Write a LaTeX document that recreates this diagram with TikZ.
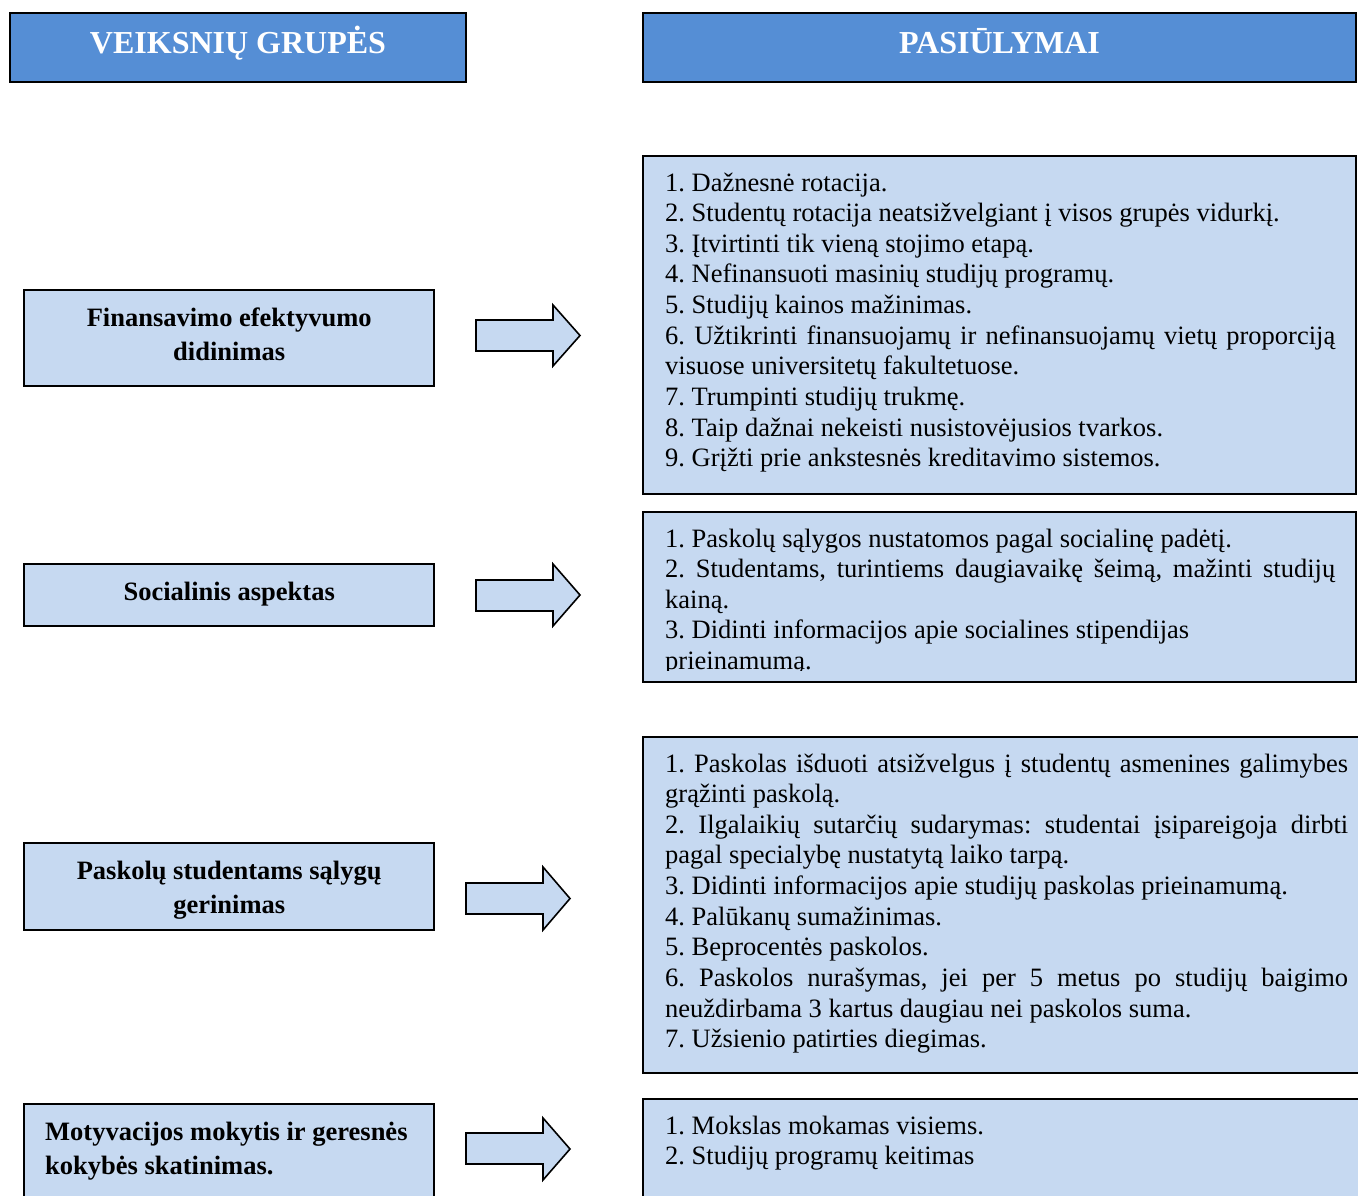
\documentclass[tikz,border=0pt]{standalone}
\usepackage{fontspec}
\setmainfont{Liberation Serif}
\frenchspacing
\definecolor{hdrblue}{HTML}{558ED5}
\definecolor{boxblue}{HTML}{C6D9F1}
\newcommand\lineJ[1]{\hbox to\hsize{#1}}
\newcommand\lineN[1]{\hbox{#1}}
\newcommand\lineC[1]{\hbox to\hsize{\hfil#1\hfil}}
\newcommand\bodytext{\fontsize{26.5}{30.7}\selectfont}
\tikzset{
  hdrbox/.style={draw=black, line width=2pt, fill=hdrblue, inner sep=0, minimum height=69pt},
  leftbox/.style={draw=black, line width=1.6pt, fill=boxblue, inner sep=0, minimum width=410pt},
  lefttext/.style={anchor=base west, inner sep=0, font=\fontsize{26.5}{34}\selectfont\bfseries},
  rightbox/.style={draw=black, line width=1.6pt, fill=boxblue, inner sep=0},
  hdrtext/.style={anchor=base, inner sep=0, text=white, font=\fontsize{32}{38}\selectfont\bfseries},
  bodynode/.style={anchor=base west, inner sep=0, font=\bodytext},
  bigarrow/.style={draw=black, line width=1.6pt, fill=boxblue, line join=miter}
}
\begin{document}
\begin{tikzpicture}[x=1pt,y=-1pt]
\useasboundingbox (0,0) rectangle (1358,1195);
\clip (0,0) rectangle (1358,1195);
\fill[white] (0,0) rectangle (1358,1195);

% headers
\node[hdrbox, minimum width=456pt] (h1) at (238,47.5) {};
\node[hdrtext] (h1t) at (238,53) {VEIKSNIŲ GRUPĖS};
\node[hdrbox, minimum width=713pt] (h2) at (999.5,47.5) {};
\node[hdrtext] (h2t) at (999.5,53) {PASIŪLYMAI};

% left boxes
\node[leftbox, minimum height=96pt] (l1) at (229,338) {};
\node[lefttext] (l1t) at (24,326) {\vtop{\hsize=410pt\baselineskip=34pt\parindent=0pt
   \lineC{Finansavimo efektyvumo}
   \lineC{didinimas}}};
\node[leftbox, minimum height=62pt] (l2) at (229,595) {};
\node[lefttext] (l2t) at (24,600) {\vtop{\hsize=410pt\parindent=0pt
   \lineC{Socialinis aspektas}}};
\node[leftbox, minimum height=87pt] (l3) at (229,886.5) {};
\node[lefttext] (l3t) at (24,879) {\vtop{\hsize=410pt\baselineskip=34pt\parindent=0pt
   \lineC{Paskolų studentams sąlygų}
   \lineC{gerinimas}}};
\node[leftbox, minimum height=116pt] (l4) at (229,1162) {};
\node[lefttext] (l4t) at (45,1140) {\vtop{\hsize=400pt\baselineskip=34pt\parindent=0pt
   \lineN{Motyvacijos mokytis ir geresnės}
   \lineN{kokybės skatinimas.}}};

% right boxes
\node[rightbox, minimum width=713pt, minimum height=338pt] (r1) at (999.5,325) {};
\node[rightbox, minimum width=713pt, minimum height=170pt] (r2) at (999.5,597) {};
\node[rightbox, minimum width=737pt, minimum height=336pt] (r3) at (1011.5,905) {};
\node[rightbox, minimum width=737pt, minimum height=131pt] (r4) at (1011.5,1164.5) {};

\node[bodynode] (r1t) at (665,191) {\vtop{\hsize=670pt\baselineskip=30.65pt\parindent=0pt
  \lineN{1. Dažnesnė rotacija.}
  \lineN{2. Studentų rotacija neatsižvelgiant į visos grupės vidurkį.}
  \lineN{3. Įtvirtinti tik vieną stojimo etapą.}
  \lineN{4. Nefinansuoti masinių studijų programų.}
  \lineN{5. Studijų kainos mažinimas.}
  \lineJ{6. Užtikrinti finansuojamų ir nefinansuojamų vietų proporciją}
  \lineN{visuose universitetų fakultetuose.}
  \lineN{7. Trumpinti studijų trukmę.}
  \lineN{8. Taip dažnai nekeisti nusistovėjusios tvarkos.}
  \lineN{9. Grįžti prie ankstesnės kreditavimo sistemos.}}};

\begin{scope}
\clip (643,512) rectangle (1356,670.5);
\node[bodynode] (r2t) at (665,547) {\vtop{\hsize=670pt\baselineskip=30.65pt\parindent=0pt
  \lineN{1. Paskolų sąlygos nustatomos pagal socialinę padėtį.}
  \lineJ{2. Studentams, turintiems daugiavaikę šeimą, mažinti studijų}
  \lineN{kainą.}
  \lineN{3. Didinti informacijos apie socialines stipendijas}
  \lineN{prieinamumą.}}};
\end{scope}

\node[bodynode] (r3t) at (665,772) {\vtop{\hsize=683pt\baselineskip=30.65pt\parindent=0pt
  \lineJ{1. Paskolas išduoti atsižvelgus į studentų asmenines galimybes}
  \lineN{grąžinti paskolą.}
  \lineJ{2. Ilgalaikių sutarčių sudarymas: studentai įsipareigoja dirbti}
  \lineN{pagal specialybę nustatytą laiko tarpą.}
  \lineN{3. Didinti informacijos apie studijų paskolas prieinamumą.}
  \lineN{4. Palūkanų sumažinimas.}
  \lineN{5. Beprocentės paskolos.}
  \lineJ{6. Paskolos nurašymas, jei per 5 metus po studijų baigimo}
  \lineN{neuždirbama 3 kartus daugiau nei paskolos suma.}
  \lineN{7. Užsienio patirties diegimas.}}};

\node[bodynode] (r4t) at (665,1134) {\vtop{\hsize=683pt\baselineskip=30.65pt\parindent=0pt
  \lineN{1. Mokslas mokamas visiems.}
  \lineN{2. Studijų programų keitimas}}};

% block arrows
\draw[bigarrow] (476,320) -- (553,320) -- (553,305) -- (580,335.5) -- (553,366) -- (553,351) -- (476,351) -- cycle;
\draw[bigarrow] (476,580) -- (553,580) -- (553,564) -- (580,595) -- (553,626) -- (553,611) -- (476,611) -- cycle;
\draw[bigarrow] (466,883) -- (543,883) -- (543,867) -- (570,898.5) -- (543,930) -- (543,914) -- (466,914) -- cycle;
\draw[bigarrow] (466,1133) -- (543,1133) -- (543,1118) -- (570,1149) -- (543,1180) -- (543,1164) -- (466,1164) -- cycle;
\end{tikzpicture}
\end{document}
